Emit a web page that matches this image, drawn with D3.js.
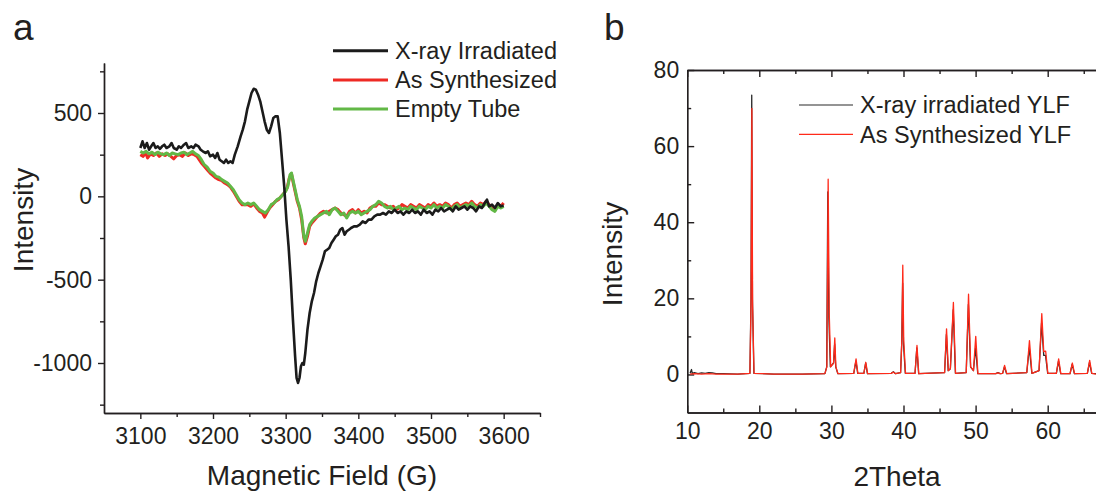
<!DOCTYPE html>
<html>
<head>
<meta charset="utf-8">
<script src="https://cdn.jsdelivr.net/npm/d3@7"></script>
<style>
  body { margin: 0; background: #fff; }
  svg text { font-family: "Liberation Sans", Arial, sans-serif; fill: #231f20; }
  .axis path, .axis line { stroke: #231f20; stroke-width: 1.4; }
</style>
</head>
<body>
<script>
// ---- panel a: EPR spectra [field (G), intensity] ----
var irradiatedEPR = [
  [3100,290],[3103,330],[3106,290],[3109,320],[3112,280],[3115,300],[3118,320],[3121,290],[3124,300],[3127,285],
  [3130,300],[3133,310],[3136,290],[3140,300],[3143,320],[3146,290],[3150,280],[3153,300],[3156,290],[3160,310],
  [3163,320],[3166,290],[3170,300],[3173,290],[3176,310],[3180,300],[3183,280],[3186,270],[3190,260],[3193,270],
  [3196,240],[3200,250],[3203,230],[3206,260],[3209,220],[3212,210],[3215,200],[3218,220],[3221,200],[3224,210],
  [3227,200],[3230,250],[3234,300],[3238,360],[3241,400],[3244,450],[3247,520],[3250,570],[3253,620],[3256,645],
  [3259,640],[3262,610],[3265,570],[3268,510],[3271,450],[3274,400],[3277,380],[3280,420],[3283,470],[3286,480],
  [3289,480],[3292,380],[3295,220],[3298,60],[3301,-140],[3304,-300],[3307,-500],[3310,-740],[3313,-960],[3315,-1090],
  [3317,-1120],[3319,-1090],[3321,-1020],[3323,-1000],[3325,-1010],[3327,-940],[3330,-800],[3333,-700],[3336,-630],[3339,-580],
  [3342,-510],[3345,-460],[3348,-420],[3351,-380],[3354,-330],[3357,-320],[3360,-310],[3363,-280],[3366,-260],[3369,-240],
  [3372,-230],[3375,-200],[3378,-190],[3381,-230],[3384,-210],[3387,-200],[3390,-190],[3394,-180],[3398,-180],[3402,-170],
  [3406,-150],[3410,-160],[3414,-140],[3418,-140],[3422,-120],[3426,-110],[3430,-110],[3434,-100],[3438,-110],[3442,-90],
  [3446,-100],[3450,-80],[3454,-100],[3458,-90],[3462,-110],[3466,-90],[3470,-100],[3474,-80],[3478,-100],[3482,-90],
  [3486,-110],[3490,-80],[3494,-100],[3498,-90],[3502,-110],[3506,-80],[3510,-90],[3514,-70],[3518,-90],[3522,-80],
  [3526,-70],[3530,-90],[3534,-60],[3538,-80],[3542,-70],[3546,-60],[3550,-80],[3554,-60],[3558,-70],[3562,-90],
  [3566,-60],[3570,-70],[3574,-40],[3577,-20],[3580,-60],[3584,-50],[3588,-70],[3592,-40],[3596,-60],[3600,-55]
];

var synthesizedEPR = [
  [3100,250],[3104,240],[3107,265],[3110,230],[3114,255],[3118,245],[3122,260],[3126,240],[3130,255],[3134,245],
  [3138,255],[3142,240],[3146,225],[3150,245],[3154,250],[3158,240],[3162,260],[3166,245],[3170,255],[3174,250],
  [3178,240],[3181,220],[3184,200],[3188,180],[3192,160],[3196,140],[3200,125],[3204,110],[3208,100],[3212,95],
  [3216,80],[3220,70],[3224,55],[3228,30],[3232,0],[3236,-30],[3240,-50],[3244,-50],[3248,-50],[3252,-60],
  [3256,-45],[3260,-70],[3264,-90],[3268,-100],[3271,-125],[3274,-100],[3278,-70],[3282,-50],[3286,-30],[3290,-20],
  [3294,0],[3298,20],[3302,50],[3305,110],[3308,135],[3310,90],[3313,30],[3316,-30],[3319,-70],[3322,-140],
  [3325,-250],[3327,-285],[3330,-240],[3333,-180],[3336,-160],[3340,-140],[3344,-120],[3348,-100],[3352,-90],[3356,-100],
  [3360,-90],[3364,-80],[3368,-70],[3372,-80],[3376,-100],[3380,-110],[3384,-120],[3388,-90],[3392,-80],[3396,-100],
  [3400,-80],[3404,-100],[3408,-90],[3412,-100],[3416,-70],[3420,-60],[3424,-60],[3428,-40],[3432,-50],[3436,-50],
  [3440,-60],[3444,-70],[3448,-60],[3452,-80],[3456,-70],[3460,-50],[3464,-60],[3468,-70],[3472,-50],[3476,-60],
  [3480,-70],[3484,-50],[3488,-60],[3492,-70],[3496,-50],[3500,-60],[3504,-40],[3508,-60],[3512,-50],[3516,-60],
  [3520,-40],[3524,-50],[3528,-70],[3532,-50],[3536,-40],[3540,-60],[3544,-50],[3548,-40],[3552,-50],[3556,-30],
  [3560,-50],[3564,-60],[3568,-40],[3572,-50],[3576,-30],[3580,-50],[3584,-70],[3588,-70],[3592,-50],[3596,-60],[3600,-40]
];

var emptyTubeEPR = [
  [3100,270],[3104,260],[3108,270],[3112,255],[3116,265],[3120,250],[3124,265],[3128,255],[3132,250],[3136,260],
  [3140,245],[3144,260],[3148,255],[3152,250],[3156,260],[3160,265],[3164,250],[3168,260],[3172,270],[3176,255],
  [3180,245],[3184,220],[3188,190],[3192,175],[3196,150],[3200,140],[3204,120],[3208,115],[3212,100],[3216,90],
  [3220,80],[3224,60],[3228,40],[3232,10],[3236,-20],[3240,-40],[3244,-50],[3248,-40],[3252,-50],[3256,-40],
  [3260,-60],[3264,-80],[3268,-90],[3272,-100],[3276,-80],[3280,-50],[3284,-40],[3288,-20],[3292,-10],[3296,10],
  [3300,30],[3303,60],[3306,130],[3308,140],[3310,100],[3313,40],[3316,-20],[3319,-60],[3322,-120],[3325,-240],
  [3327,-270],[3330,-220],[3333,-170],[3336,-150],[3340,-130],[3344,-120],[3348,-110],[3352,-100],[3356,-90],[3360,-110],
  [3364,-80],[3368,-70],[3372,-90],[3376,-110],[3380,-100],[3384,-130],[3388,-100],[3392,-90],[3396,-100],[3400,-90],
  [3404,-110],[3408,-100],[3412,-90],[3416,-80],[3420,-60],[3424,-50],[3428,-30],[3432,-40],[3436,-60],[3440,-70],
  [3444,-60],[3448,-80],[3452,-70],[3456,-60],[3460,-80],[3464,-70],[3468,-80],[3472,-60],[3476,-70],[3480,-80],
  [3484,-60],[3488,-70],[3492,-80],[3496,-60],[3500,-70],[3504,-50],[3508,-70],[3512,-60],[3516,-70],[3520,-50],
  [3524,-60],[3528,-80],[3532,-60],[3536,-50],[3540,-70],[3544,-60],[3548,-50],[3552,-60],[3556,-40],[3560,-60],
  [3564,-70],[3568,-50],[3572,-60],[3576,-40],[3580,-60],[3584,-80],[3588,-90],[3592,-60],[3596,-70],[3600,-60]
];

var eprNames = ["X-ray Irradiated", "As Synthesized", "Empty Tube"];
var fieldTicks = [3100, 3200, 3300, 3400, 3500, 3600];
var fieldMinor = [3150, 3250, 3350, 3450, 3550, 3650];
var eprTicks = [-1000, -500, 0, 500];
var eprMinor = [-1250, -750, -250, 250, 750];

// ---- panel b: XRD patterns [2theta, intensity] ----
var irradiatedXRD = [
  [10.4,0.3],[10.6,1.3],[10.7,0.3],[11,0.5],[11.5,0.2],[12,0.4],[12.5,0.3],[13,0.5],[13.5,0.4],[14,0.2],[15,0.2],[17,0.1],
  [18.7,0.3],[18.85,20],[18.95,73.4],[19.05,20],[19.25,0.3],[22,0.1],[26,0.1],[29.1,0.2],
  [29.35,2],[29.5,48],[29.65,15],[29.85,2],[30.3,3],[30.45,8],[30.6,2],[30.9,0.2],
  [33.1,0.3],[33.4,3.5],[33.65,0.3],[34.5,0.3],[34.75,3],[35,0.2],[38.3,0.3],[38.6,0.7],[38.9,0.2],
  [39.6,0.5],[39.75,8],[39.88,24],[40.0,8],[40.25,0.3],[41.6,0.3],[41.85,7],[42.1,0.2],
  [45.7,0.5],[45.95,10.5],[46.2,1],[46.5,1.5],[46.9,17],[47.2,0.3],
  [48.7,0.5],[49.0,18.4],[49.3,2],[49.7,1],[50.0,7],[50.3,0.2],
  [52.8,0.2],[53.1,0.5],[53.4,0.2],[53.75,0.3],[54.0,2],[54.3,0.2],
  [57.1,0.5],[57.45,7],[57.8,0.3],[58.8,1],[59.15,13.5],[59.45,5],[59.7,5],[60.0,0.3],
  [61.2,0.3],[61.5,3.5],[61.8,0.2],[63.1,0.2],[63.4,2.7],[63.7,0.2],[65.5,0.3],[65.8,3.2],[66.1,0.3],[66.7,0.2]
];

var synthesizedXRD = [
  [10.4,0.1],[11,0.2],[12,0.1],[13,0.2],[14,0.1],[15,0.1],[17,0.1],
  [18.7,0.3],[18.85,18],[18.97,69.9],[19.07,18],[19.27,0.3],[22,0.1],[26,0.1],[29.1,0.2],
  [29.37,2],[29.55,51.3],[29.7,16],[29.9,2],[30.3,3],[30.47,9.6],[30.62,2],[30.9,0.2],
  [33.1,0.3],[33.42,4.1],[33.67,0.3],[34.5,0.3],[34.77,3.2],[35.02,0.2],[38.3,0.3],[38.6,0.6],[38.9,0.2],
  [39.6,0.5],[39.77,9],[39.9,28.7],[40.03,9],[40.28,0.3],[41.6,0.3],[41.87,7.6],[42.12,0.2],
  [45.7,0.5],[45.97,12],[46.22,1],[46.5,1.5],[46.92,18.9],[47.22,0.3],
  [48.7,0.5],[49.02,21.1],[49.32,2],[49.7,1],[50.02,10],[50.32,0.2],
  [52.8,0.2],[53.1,0.4],[53.4,0.2],[53.75,0.3],[54.02,2.4],[54.32,0.2],
  [57.1,0.5],[57.47,8.9],[57.82,0.3],[58.8,1],[59.18,16],[59.45,6],[59.72,6.1],[60.02,0.3],
  [61.2,0.3],[61.52,4.1],[61.82,0.2],[63.1,0.2],[63.42,3],[63.72,0.2],[65.5,0.3],[65.82,3.7],[66.12,0.3],[66.7,0.1]
];

var xrdNames = ["X-ray irradiated YLF", "As Synthesized YLF"];
var thetaTicks = [10, 20, 30, 40, 50, 60];
var thetaMinor = [15, 25, 35, 45, 55, 65];
var xrdTicks = [0, 20, 40, 60, 80];
var xrdMinor = [10, 30, 50, 70];

var svg = d3.select("body").append("svg")
    .attr("width", 1096)
    .attr("height", 493);

function fmt(d) { return String(d); }

// ================= panel a =================
var xa = d3.scaleLinear().domain([3050, 3650]).range([104, 540]);
var ya = d3.scaleLinear().domain([-1300, 800]).range([413, 63]);

svg.append("g").attr("class", "axis")
    .attr("transform", "translate(0,413)")
    .call(d3.axisBottom(xa).tickValues(fieldMinor).tickSize(4).tickSizeOuter(0).tickFormat(""));
svg.append("g").attr("class", "axis")
    .attr("transform", "translate(0,413)")
    .call(d3.axisBottom(xa).tickValues(fieldTicks).tickSize(6).tickSizeOuter(0).tickPadding(9).tickFormat(fmt))
    .selectAll("text").style("font-size", "23px");

svg.append("g").attr("class", "axis")
    .attr("transform", "translate(104,0)")
    .call(d3.axisLeft(ya).tickValues(eprMinor).tickSize(4).tickSizeOuter(0).tickFormat(""));
svg.append("g").attr("class", "axis")
    .attr("transform", "translate(104,0)")
    .call(d3.axisLeft(ya).tickValues(eprTicks).tickSize(6).tickSizeOuter(0).tickPadding(6).tickFormat(fmt))
    .selectAll("text").style("font-size", "23px");

var lineA = d3.line()
    .x(function(d) { return xa(d[0]); })
    .y(function(d) { return ya(d[1]); });

var eprSeries = [irradiatedEPR, synthesizedEPR, emptyTubeEPR];
var eprColors = ["#1b1b1b", "#ee2a24", "#62b846"];
var eprWidths = [2.6, 3, 3];

// draw red first, then green on top, then black
[1, 2, 0].forEach(function(i) {
  svg.append("path")
      .datum(eprSeries[i])
      .attr("fill", "none")
      .attr("stroke", eprColors[i])
      .attr("stroke-width", eprWidths[i])
      .attr("stroke-linejoin", "round")
      .attr("d", lineA);
});

// legend a
eprNames.forEach(function(name, i) {
  var y = 50.7 + i * 29.2;
  svg.append("line")
      .attr("x1", 333).attr("x2", 388)
      .attr("y1", y).attr("y2", y)
      .attr("stroke", eprColors[i])
      .attr("stroke-width", 3);
  svg.append("text")
      .attr("x", 395).attr("y", y + 8.3)
      .style("font-size", "23.5px")
      .text(name);
});

svg.append("text")
    .attr("text-anchor", "middle")
    .attr("x", 322).attr("y", 485)
    .style("font-size", "28px")
    .text("Magnetic Field (G)");

svg.append("text")
    .attr("text-anchor", "middle")
    .attr("transform", "translate(33,220) rotate(-90)")
    .style("font-size", "28px")
    .text("Intensity");

svg.append("text")
    .attr("x", 13).attr("y", 40)
    .style("font-size", "37px")
    .text("a");

// ================= panel b =================
var xb = d3.scaleLinear().domain([10, 70]).range([687.2, 1119.8]);
var yb = d3.scaleLinear().domain([-10, 80]).range([412.5, 70]);

svg.append("g").attr("class", "axis")
    .attr("transform", "translate(0,70)")
    .call(d3.axisTop(xb).tickValues(thetaMinor).tickSize(-4).tickSizeOuter(0).tickFormat(""));
svg.append("g").attr("class", "axis")
    .attr("transform", "translate(0,70)")
    .call(d3.axisTop(xb).tickValues(thetaTicks).tickSize(-7).tickSizeOuter(0).tickFormat(""));

svg.append("g").attr("class", "axis")
    .attr("transform", "translate(0,412.5)")
    .call(d3.axisBottom(xb).tickValues(thetaMinor).tickSize(-4).tickSizeOuter(0).tickFormat(""));
svg.append("g").attr("class", "axis")
    .attr("transform", "translate(0,412.5)")
    .call(d3.axisBottom(xb).tickValues(thetaTicks).tickSize(-7).tickSizeOuter(0).tickPadding(10).tickFormat(fmt))
    .selectAll("text").style("font-size", "23px");

svg.append("g").attr("class", "axis")
    .attr("transform", "translate(687.2,0)")
    .call(d3.axisLeft(yb).tickValues(xrdMinor).tickSize(-4).tickSizeOuter(0).tickFormat(""));
svg.append("g").attr("class", "axis")
    .attr("transform", "translate(687.2,0)")
    .call(d3.axisLeft(yb).tickValues(xrdTicks).tickSize(-7).tickSizeOuter(0).tickPadding(8).tickFormat(fmt))
    .selectAll("text").style("font-size", "23px");

var lineB = d3.line()
    .x(function(d) { return xb(d[0]); })
    .y(function(d) { return yb(d[1]); });

var xrdSeries = [irradiatedXRD, synthesizedXRD];
var xrdColors = ["#2a2a2a", "#ff2a1a"];

xrdSeries.forEach(function(s, i) {
  svg.append("path")
      .datum(s)
      .attr("fill", "none")
      .attr("stroke", xrdColors[i])
      .attr("stroke-width", 1.3)
      .attr("stroke-linejoin", "round")
      .attr("d", lineB);
});

// legend b
xrdNames.forEach(function(name, i) {
  var y = 105 + i * 29.3;
  svg.append("line")
      .attr("x1", 799).attr("x2", 853)
      .attr("y1", y).attr("y2", y)
      .attr("stroke", xrdColors[i])
      .attr("stroke-width", 1.2);
  svg.append("text")
      .attr("x", 860).attr("y", y + 8.3)
      .style("font-size", "23.5px")
      .text(name);
});

svg.append("text")
    .attr("text-anchor", "middle")
    .attr("x", 897).attr("y", 486)
    .style("font-size", "28px")
    .text("2Theta");

svg.append("text")
    .attr("text-anchor", "middle")
    .attr("transform", "translate(622,254) rotate(-90)")
    .style("font-size", "28px")
    .text("Intensity");

svg.append("text")
    .attr("x", 604).attr("y", 40)
    .style("font-size", "37px")
    .text("b");
</script>
</body>
</html>
